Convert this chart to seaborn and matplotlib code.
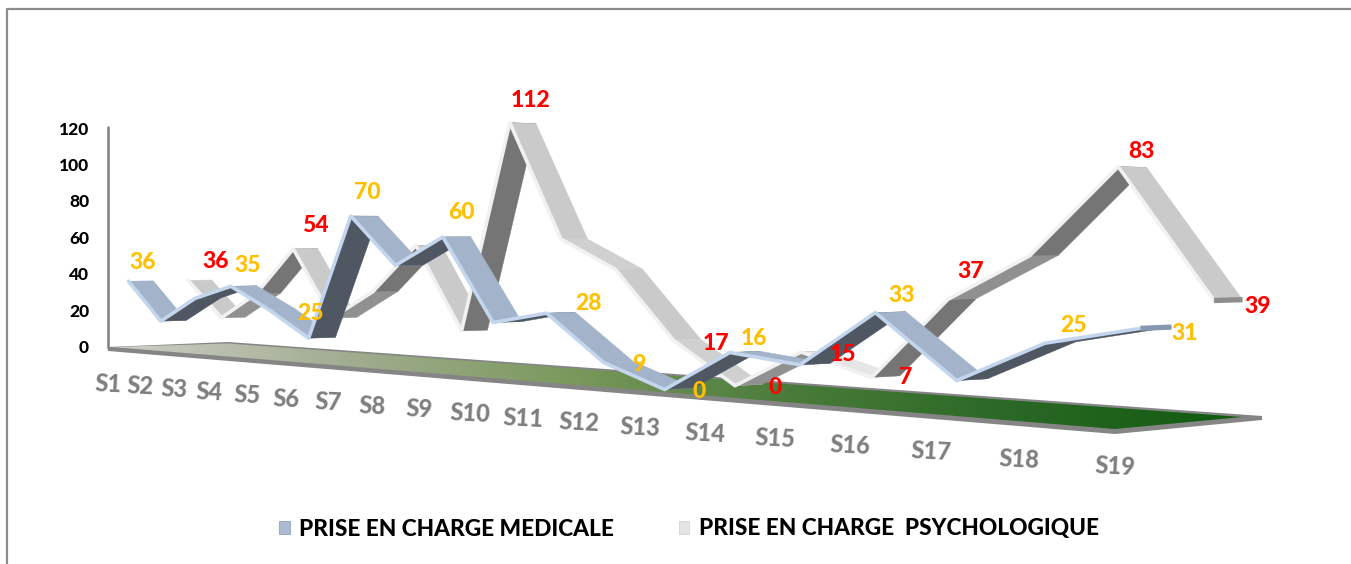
import numpy as np
import pandas as pd
import matplotlib
matplotlib.use("Agg")
import matplotlib.pyplot as plt
from matplotlib.patches import Patch, Polygon
from matplotlib.colors import LinearSegmentedColormap
from matplotlib import font_manager as fm
import seaborn as sns

# ---- data ----
categories = [f"S{i}" for i in range(1, 20)]
medical = [36, 15, 28, 35, 24, 11, 70, 47, 60, 23, 28, 9, 0, 16, 13, 33, 11, 25, 31]
psycho = [36, 16, 30, 54, 19, 33, 56, 16, 112, 59, 46, 17, 0, 15, 7, 37, 53, 83, 39]
medical_labels = {0: "36", 3: "35", 4: "25", 6: "70", 8: "60", 10: "28", 11: "9",
                  12: "0", 13: "16", 15: "33", 17: "25", 18: "31"}
psycho_labels = {0: "36", 3: "54", 8: "112", 11: "17", 12: "0", 13: "15", 14: "7",
                 15: "37", 17: "83", 18: "39"}
y_ticks = [0, 20, 40, 60, 80, 100, 120]
series_names = ["PRISE EN CHARGE MEDICALE", "PRISE EN CHARGE  PSYCHOLOGIQUE"]

# ---- label offsets (pixels from the ribbon's front edge) ----
medical_offsets = {0: (14, -19), 3: (17, -21), 4: (42, 4), 6: (17, -24), 8: (19, -24),
                   10: (42, -10), 11: (35, 2), 12: (35, 2), 13: (24, -14), 15: (26, -17),
                   17: (29, -18), 18: (44, 5)}
psycho_offsets = {0: (27, -19), 3: (22, -23), 8: (21, -22), 11: (43, 3), 12: (40, 2),
                  13: (42, 2), 14: (34, 0), 15: (23, -28), 17: (23, -15), 18: (44, 6)}

# ---- perspective of the 3-D floor ----
corners_px = np.array([[108, 347], [1115, 430], [228, 343], [1262, 418]], float)
HEIGHT_SCALE = 1.82


def floor_homography(c):
    p00, p10, p01, p11 = c
    s = p00 - p10 + p11 - p01
    d1, d2 = p10 - p11, p01 - p11
    g, h = np.linalg.solve(np.array([d1, d2]).T, s)
    return np.array([[p10[0] - p00[0] + g * p10[0], p01[0] - p00[0] + h * p01[0], p00[0]],
                     [p10[1] - p00[1] + g * p10[1], p01[1] - p00[1] + h * p01[1], p00[1]],
                     [g, h, 1.0]])


H = floor_homography(corners_px)


def project(u, v, value=0.0):
    X, Y, W = H @ np.array([u, v, 1.0])
    return X / W, Y / W - HEIGHT_SCALE * value / W


sns.set_theme(style="white")
plt.rcParams["font.family"] = ["Lato", "DejaVu Sans"]
BOLD = fm.FontProperties(family="Lato", weight="black")


def bold(size):
    fp = BOLD.copy()
    fp.set_size(size)
    return fp


fig, ax = plt.subplots(figsize=(13.51, 5.64), dpi=100)
fig.subplots_adjust(0, 0, 1, 1)
ax.set_xlim(0, 1351)
ax.set_ylim(564, 0)
ax.axis("off")

# chart frame
ax.plot([6.5, 6.5, 1351], [564, 8.5, 8.5], color="#8C8C8C", lw=1.6, zorder=1)

# value axis
ax.plot([108, 108], [project(0, 0, 120)[1] - 2, 348], color="#808080", lw=1.8, zorder=2)
for t in y_ticks:
    ax.text(89, project(0, 0, t)[1] + 1, str(t), ha="right", va="center",
            fontproperties=bold(12.5), color="black")

# floor slab + gradient top
ax.add_patch(Polygon([(108, 347), (228, 342), (1262, 416), (1262, 420), (1115, 434), (108, 351)],
                     closed=True, fc="#858585", ec="none", zorder=2))
floor_cmap = LinearSegmentedColormap.from_list(
    "floor", ["#CDCFC8", "#A3AE93", "#7C9A5E", "#4A7B3A", "#2A6825", "#0F5A10"])
grad = np.linspace(0, 1, 512).reshape(1, -1)
img = ax.imshow(grad, cmap=floor_cmap, extent=(108, 1242, 432, 340), aspect="auto", zorder=3)
ax.set_xlim(0, 1351)
ax.set_ylim(564, 0)
clip = Polygon([(112, 347), (228, 343.5), (1242, 417), (1115, 429)], closed=True,
               transform=ax.transData)
img.set_clip_path(clip)


def draw_ribbon(values, v0, v1, shade, edge_color, cap_color, z):
    n = len(values)
    us = np.linspace(0, 1, n)
    for i in range(n - 1):
        a = project(us[i], v0, values[i])
        b = project(us[i + 1], v0, values[i + 1])
        c = project(us[i + 1], v1, values[i + 1])
        d = project(us[i], v1, values[i])
        slope = (a[1] - b[1]) / (b[0] - a[0])
        ax.add_patch(Polygon([a, b, c, d], closed=True, fc=shade(slope), ec=shade(slope),
                             lw=0.3, zorder=z))
    front = [project(u, v0, val) for u, val in zip(us, values)]
    df = pd.DataFrame(front, columns=["x", "y"])
    sns.lineplot(data=df, x="x", y="y", sort=False, estimator=None, color=edge_color,
                 lw=2.6, ax=ax, legend=False, zorder=z + 0.1)
    ax.plot(*zip(project(1, v0, values[-1]), project(1, v1, values[-1])),
            color=cap_color, lw=3.8, solid_capstyle="butt", zorder=z + 0.2)
    return front


def shade_gray(slope):
    if slope < -1.0:
        return "#CACACA"
    if slope < -0.5:
        return "#D0D0D0"
    if slope < 0:
        return "#E6E6E6"
    if slope < 0.5:
        return "#A4A4A4"
    if slope < 0.9:
        return "#909090"
    return "#757575"


def shade_blue(slope):
    return "#A3B4CA" if slope < 0 else "#4E5762"


front_psy = draw_ribbon(psycho, 0.66, 0.86, shade_gray, "#F1F1F1", "#8E8E8E", 4)
front_med = draw_ribbon(medical, 0.165, 0.37, shade_blue, "#C3D6EE", "#8797AD", 6)


def annotate(front, labels, offsets, color):
    for i, txt in labels.items():
        dx, dy = offsets[i]
        ax.annotate(txt, xy=front[i], xytext=(dx, -dy), textcoords="offset pixels",
                    ha="center", va="center", fontproperties=bold(16.5), color=color, zorder=10)


annotate(front_med, medical_labels, medical_offsets, "#FFC000")
annotate(front_psy, psycho_labels, psycho_offsets, "#FF0000")

# category labels
for i, name in enumerate(categories):
    x, y = project(i / (len(categories) - 1), 0)
    ax.text(x, y + 37, name, ha="center", va="center",
            fontproperties=bold(17), color="#7F7F7F", rotation=-3, rotation_mode="anchor")

# legend
handles = [Patch(fc="#A9BAD2", ec="#8FA2BC", lw=0.6, label=series_names[0]),
           Patch(fc="#E4E4E4", ec="#D2D2D2", lw=0.6, label=series_names[1])]
ax.legend(handles=handles, loc="center", bbox_to_anchor=(689 / 1351, 1 - 529 / 564), ncol=2,
          frameon=False, handlelength=0.45, handleheight=0.45, handletextpad=0.4,
          columnspacing=2.9, prop=bold(16.3), labelcolor="black")

fig.savefig("out.png", dpi=100)
